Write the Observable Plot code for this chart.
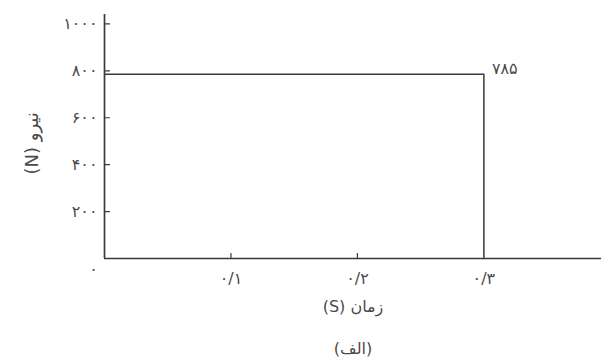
<!DOCTYPE html>
<html><head><meta charset="utf-8">
<script src="https://cdn.jsdelivr.net/npm/d3@7"></script>
<script src="https://cdn.jsdelivr.net/npm/@observablehq/plot@0.6"></script>
<style>
body{margin:0;background:#fff}
svg{font-family:"DejaVu Sans",sans-serif}
</style>
</head><body><div id="chart"></div>
<script>
const times = [0, 0.3, 0.3];
const forces = [785, 785, 0];
const xTicks = [0.1, 0.2, 0.3];
const xTickLabels = ["۰/۱", "۰/۲", "۰/۳"];
const yTicks = [200, 400, 600, 800, 1000];
const yTickLabels = ["۲۰۰", "۴۰۰", "۶۰۰", "۸۰۰", "۱۰۰۰"];
const originLabel = "۰";
const peakLabel = "۷۸۵";
const xLabel = "زمان (S)";
const yLabel = "نیرو (N)";
const caption = "(الف)";

const rtl = s => "\u202B" + s + "\u202C";
const series = times.map((t, i) => ({t, f: forces[i]}));
const tickShape = {draw(ctx, l) { ctx.moveTo(0, 0); ctx.lineTo(0, -l); }};
const ink = "#3a3a3a";
const textInk = "#4a4a4a";

const chart = Plot.plot({
  width: 601,
  height: 362,
  marginLeft: 104,
  marginRight: 0,
  marginTop: 14,
  marginBottom: 104,
  style: {background: "#fff", color: textInk},
  x: {domain: [0, 0.393]},
  y: {domain: [0, 1040]},
  marks: [
    Plot.ruleX([0], {stroke: ink, strokeWidth: 1.7}),
    Plot.ruleY([0], {stroke: ink, strokeWidth: 1.7}),
    Plot.vector(xTicks.slice(0, 2), {x: d => d, y: 0, length: 5, rotate: 0, anchor: "start", shape: tickShape, stroke: ink, strokeWidth: 1.2}),
    Plot.vector(yTicks, {x: 0, y: d => d, length: 5, rotate: 90, anchor: "start", shape: tickShape, stroke: ink, strokeWidth: 1.2}),
    Plot.line(series, {x: "t", y: "f", stroke: ink, strokeWidth: 1.5}),
    Plot.axisX({ticks: xTicks, tickFormat: d => xTickLabels[xTicks.indexOf(d)], tickSize: 0, tickPadding: 14, fontSize: 16,
      label: null}),
    Plot.axisY({ticks: yTicks, tickFormat: d => yTickLabels[yTicks.indexOf(d)], tickSize: 0, tickPadding: 7, fontSize: 16,
      label: null}),
    Plot.text([originLabel], {x: 0, y: 0, text: d => d, dx: -11, dy: 11, fontSize: 16, fill: textInk}),
    Plot.text([peakLabel], {x: xTicks[2], y: forces[0], text: d => d, dx: 8, dy: -5, textAnchor: "start", fontSize: 16, fill: textInk}),
    Plot.text([xLabel], {frameAnchor: "bottom", text: d => rtl(d), dy: 53, fontSize: 16, fill: textInk, dx: 0}),
    Plot.text([yLabel], {frameAnchor: "left", text: d => rtl(d), dx: -72, dy: 38, rotate: -90, fontSize: 18, fill: textInk}),
    Plot.text([caption], {frameAnchor: "bottom", text: d => d, dy: 95, fontSize: 16, fill: textInk, dx: 0})
  ]
});
document.getElementById("chart").append(chart);
</script>
</body></html>
